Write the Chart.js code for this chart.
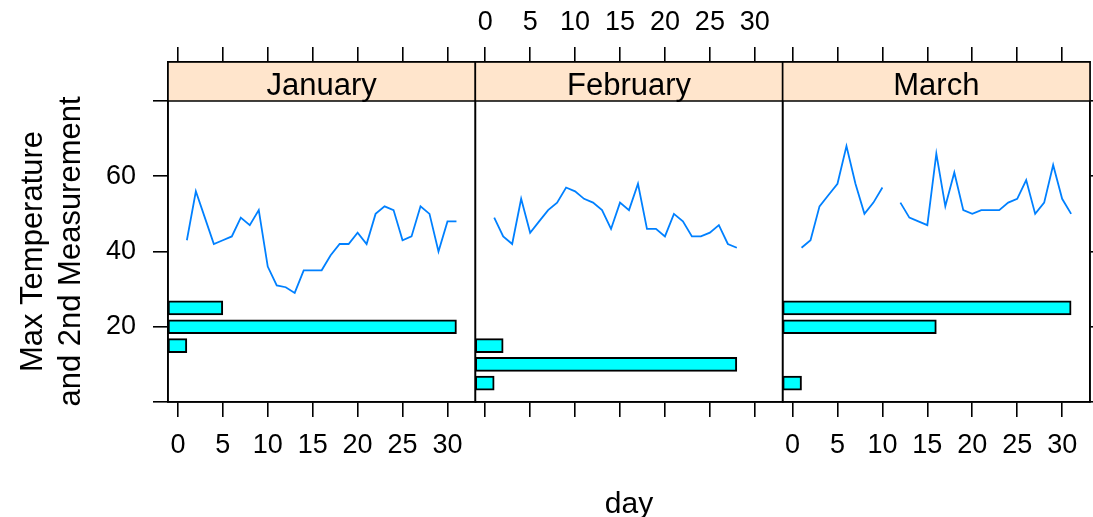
<!DOCTYPE html>
<html>
<head>
<meta charset="utf-8">
<script src="https://cdn.jsdelivr.net/npm/chart.js@4.4.1/dist/chart.umd.min.js"></script>
<style>
html,body{margin:0;padding:0;background:#fff;overflow:hidden}
#wrap{position:relative;width:1093px;height:517px}
#wrap canvas{position:absolute;left:0;top:0}
</style>
</head>
<body>
<div id="wrap">
<canvas id="c0" width="1093" height="517"></canvas>
<canvas id="c1" width="1093" height="517"></canvas>
<canvas id="c2" width="1093" height="517"></canvas>
</div>
<script>
// ---------------- data ----------------
const MONTHS = ['January', 'February', 'March'];
const DAYS = [1,2,3,4,5,6,7,8,9,10,11,12,13,14,15,16,17,18,19,20,21,22,23,24,25,26,27,28,29,30,31];
const FEB_DAYS = [1,2,3,4,5,6,7,8,9,10,11,12,13,14,15,16,17,18,19,20,21,22,23,24,25,26,27,28];

const JAN_MAX = [43,56,49,42,43,44,49,47,51,36,31,30.5,29,35,35,35,39,42,42,45,42,50,52,51,43,44,52,50,40,48,48];
const FEB_MAX = [49,44,42,54,45,48,51,53,57,56,54,53,51,46,53,51,58,46,46,44,50,48,44,44,45,47,42,41];
const MAR_MAX = [41,43,52,55,58,68,58,50,53,57,null,53,49,48,47,66,52,61,51,50,51,51,51,53,54,59,50,53,63,54,50];

// second measurement: level (y) and length (x) of each bar
const JAN_M2_LEVEL = [15, 20, 25];
const JAN_M2_VALUE = [1, 31, 5];
const FEB_M2_LEVEL = [5, 10, 15];
const FEB_M2_VALUE = [1, 28, 2];
const MAR_M2_LEVEL = [5, 20, 25];
const MAR_M2_VALUE = [1, 16, 31];

const X_TICKS = [0, 5, 10, 15, 20, 25, 30];
const Y_TICKS = [0, 20, 40, 60, 80];
const Y_TICK_LABELS = ['', '20', '40', '60', ''];
const X_LIM = [-1.1, 33.1];
const Y_LIM = [0, 80];
const Y_TITLE = ['Max Temperature', 'and 2nd Measurement'];
const X_TITLE = 'day';

// ---------------- layout / style ----------------
const W = 1093, H = 517;
const PANEL_L = 168, PANEL_R = 1090, PANEL_T = 101, PANEL_B = 402, STRIP_T = 62;
const PW = (PANEL_R - PANEL_L) / 3;
const Y_MAX_SCALE = Y_LIM[1] + (Y_LIM[1] - Y_LIM[0]) * (PANEL_T - STRIP_T) / (PANEL_B - PANEL_T);
const FONT = '"Liberation Sans", Arial, Helvetica, sans-serif';
const TICK_FONT = {family: FONT, size: 27};
const STRIP_BG = '#ffe5cc';
const LINE_COL = '#0080ff';
const BAR_COL = '#00ffff';

Chart.defaults.font.family = FONT;

const panels = [
  {name: MONTHS[0], days: DAYS, max: JAN_MAX, levels: JAN_M2_LEVEL, values: JAN_M2_VALUE, top: false, bottom: true},
  {name: MONTHS[1], days: FEB_DAYS, max: FEB_MAX, levels: FEB_M2_LEVEL, values: FEB_M2_VALUE, top: true, bottom: false},
  {name: MONTHS[2], days: DAYS, max: MAR_MAX, levels: MAR_M2_LEVEL, values: MAR_M2_VALUE, top: false, bottom: true}
];

const setTicks = (list) => (s) => { s.ticks = list.map(v => ({value: v})); };

const panelPlugin = {
  id: 'latticePanel',
  beforeDatasetsDraw(chart, args, opts) {
    const {ctx, chartArea: a} = chart;
    const ys = chart.scales.y.getPixelForValue(Y_LIM[1]);
    ctx.save();
    ctx.fillStyle = STRIP_BG;
    ctx.fillRect(a.left, a.top, a.right - a.left, ys - a.top);
    ctx.fillStyle = '#000';
    ctx.font = '31px ' + FONT;
    ctx.textAlign = 'center';
    ctx.textBaseline = 'alphabetic';
    ctx.fillText(opts.label, (a.left + a.right) / 2, a.top + 32.5);
    ctx.restore();
  },
  afterDatasetsDraw(chart) {
    const {ctx, chartArea: a} = chart;
    const ys = chart.scales.y.getPixelForValue(Y_LIM[1]);
    ctx.save();
    ctx.strokeStyle = '#000';
    ctx.lineWidth = 1.6;
    ctx.strokeRect(a.left, a.top, a.right - a.left, a.bottom - a.top);
    ctx.beginPath();
    ctx.moveTo(a.left, ys);
    ctx.lineTo(a.right, ys);
    ctx.stroke();
    ctx.restore();
  }
};

const titlePlugin = {
  id: 'latticeTitles',
  afterDraw(chart) {
    const ctx = chart.ctx;
    ctx.save();
    ctx.fillStyle = '#000';
    ctx.font = '30px ' + FONT;
    ctx.textAlign = 'center';
    ctx.textBaseline = 'alphabetic';
    ctx.fillText(X_TITLE, (PANEL_L + PANEL_R) / 2, 513);
    ctx.translate(0, (PANEL_T + PANEL_B) / 2);
    ctx.rotate(-Math.PI / 2);
    ctx.font = '31px ' + FONT;
    ctx.fillText(Y_TITLE[0], 0, 41.5);
    ctx.fillText(Y_TITLE[1], 0, 79.5);
    ctx.restore();
  }
};

const gridOpts = {drawOnChartArea: false, drawTicks: true, tickLength: 15, color: '#000', lineWidth: 1.6, offset: false};
const borderOpts = {display: true, color: '#000', width: 1.6};

panels.forEach((p, i) => {
  const left = PANEL_L + i * PW;
  const right = PANEL_L + (i + 1) * PW;
  const first = i === 0, last = i === panels.length - 1;

  const scales = {
    x: {
      type: 'linear', position: 'bottom', min: X_LIM[0], max: X_LIM[1], offset: false, beginAtZero: false,
      afterBuildTicks: setTicks(X_TICKS),
      afterFit: s => { s.height = H - PANEL_B; },
      grid: gridOpts, border: borderOpts,
      ticks: {autoSkip: false, maxRotation: 0, minRotation: 0, padding: 12, color: '#000', font: TICK_FONT,
              callback: v => p.bottom ? String(v) : ''}
    },
    x2: {
      type: 'linear', position: 'top', min: X_LIM[0], max: X_LIM[1], offset: false,
      afterBuildTicks: setTicks(X_TICKS),
      afterFit: s => { s.height = STRIP_T; },
      grid: gridOpts, border: borderOpts,
      ticks: {autoSkip: false, maxRotation: 0, minRotation: 0, padding: 8, color: '#000', font: TICK_FONT,
              callback: v => p.top ? String(v) : ''}
    },
    y: {
      type: 'linear', position: 'left', display: first, min: Y_LIM[0], max: Y_MAX_SCALE, offset: false, beginAtZero: false,
      afterBuildTicks: setTicks(Y_TICKS),
      afterFit: s => { s.width = first ? PANEL_L : 0; },
      grid: gridOpts, border: borderOpts,
      ticks: {autoSkip: false, padding: 17, color: '#000', font: TICK_FONT,
              callback: (v, k) => Y_TICK_LABELS[k]}
    }
  };
  if (last) {
    scales.yr = {
      type: 'linear', position: 'right', min: Y_LIM[0], max: Y_MAX_SCALE, offset: false,
      afterBuildTicks: setTicks(Y_TICKS),
      afterFit: s => { s.width = W - PANEL_R; },
      grid: gridOpts, border: borderOpts,
      ticks: {autoSkip: false, padding: 0, color: '#000', font: TICK_FONT, callback: () => ''}
    };
  }

  new Chart(document.getElementById('c' + i), {
    type: 'line',
    data: {
      datasets: [
        {
          type: 'bar', indexAxis: 'y', xAxisID: 'x', yAxisID: 'y',
          data: p.levels.map((lv, k) => ({x: [X_LIM[0], p.values[k]], y: lv})),
          backgroundColor: BAR_COL, borderColor: '#000', borderWidth: 2, borderSkipped: false,
          barThickness: 14, order: 2
        },
        {
          type: 'line', xAxisID: 'x', yAxisID: 'y',
          data: p.days.map((d, k) => ({x: d, y: p.max[k]})),
          borderColor: LINE_COL, borderWidth: 1.8, pointRadius: 0, tension: 0, spanGaps: false, fill: false, order: 1
        }
      ]
    },
    options: {
      responsive: false, animation: false, devicePixelRatio: 1,
      layout: {autoPadding: false, padding: {left: first ? 0 : left, right: last ? 0 : W - right, top: 0, bottom: 0}},
      plugins: {legend: {display: false}, tooltip: {enabled: false}, latticePanel: {label: p.name}},
      scales
    },
    plugins: first ? [panelPlugin, titlePlugin] : [panelPlugin]
  });
});
</script>
</body>
</html>
